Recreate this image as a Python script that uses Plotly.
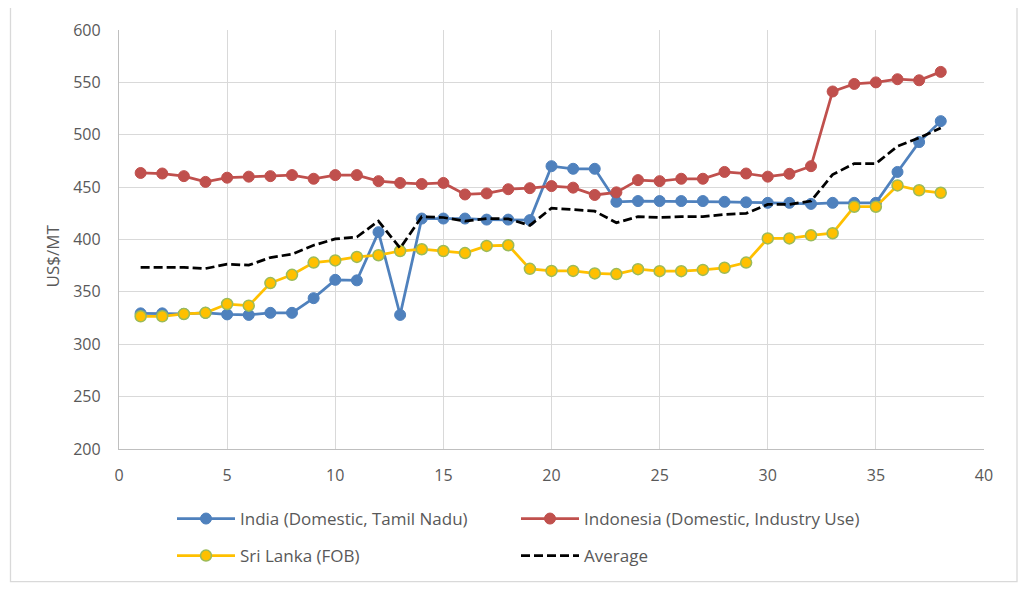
import plotly.graph_objects as go

x_vals = list(range(1, 39))

india = [329.5, 329.5, 329, 330, 328.5, 328, 330, 330, 344, 361.5,
         361, 407, 328, 420, 420, 420, 419, 419, 418.5, 470,
         467.5, 467.5, 436, 436.7, 436.7, 436.7, 436.7, 436, 435.5, 435,
         435, 434, 435, 435, 435, 464.5, 493, 513]

indonesia = [463.5, 463, 460.5, 455, 459, 460, 460.5, 461.5, 458, 461.5,
             461.5, 455.7, 454, 453, 454, 443, 444, 448, 449, 451,
             449.5, 442.5, 445, 456.7, 455.7, 458, 458, 464.5, 463, 460,
             462.7, 470, 541.3, 548.5, 550, 553, 552, 560]

sri_lanka = [326.7, 326.7, 328.9, 330, 338.4, 336.8, 358.4, 366.3, 378, 380,
             383.4, 385, 389, 390.7, 389, 387, 393.9, 394.5, 372, 370,
             370, 367.6, 367, 371.7, 369.8, 369.8, 371, 373, 378, 401,
             401, 404, 406, 431.3, 431.3, 451.6, 447, 444.6]

average = [373.3, 373.3, 373.3, 372.3, 376.4, 375.5, 382.8, 386, 394.5, 400.5,
           402.4, 417.6, 391.7, 421.8, 421, 417.6, 420, 419.7, 413.5, 430,
           428.8, 427, 416, 421.8, 421, 421.8, 421.8, 424, 425, 433.5,
           433.5, 436.7, 462, 472.5, 472.5, 489, 497, 506.5]

names = ["India (Domestic, Tamil Nadu)", "Indonesia (Domestic, Industry Use)",
         "Sri Lanka (FOB)", "Average"]

FONT = "Open Sans, Liberation Sans, Arial, sans-serif"
GRAY = "#595959"

fig = go.Figure()
fig.add_trace(go.Scatter(
    x=x_vals, y=india, name=names[0], mode="lines+markers",
    line=dict(color="#4f81bd", width=2.75),
    marker=dict(color="#4f81bd", size=11, line=dict(color="#4f81bd", width=1)),
    legend="legend"))
fig.add_trace(go.Scatter(
    x=x_vals, y=indonesia, name=names[1], mode="lines+markers",
    line=dict(color="#c0504d", width=2.75),
    marker=dict(color="#c0504d", size=11, line=dict(color="#c0504d", width=1)),
    legend="legend"))
fig.add_trace(go.Scatter(
    x=x_vals, y=sri_lanka, name=names[2], mode="lines+markers",
    line=dict(color="#ffc000", width=2.75),
    marker=dict(color="#ffc000", size=11, line=dict(color="#9bbb59", width=1.5)),
    legend="legend2"))
fig.add_trace(go.Scatter(
    x=x_vals, y=average, name=names[3], mode="lines",
    line=dict(color="#000000", width=2.75, dash="9px,4px"),
    legend="legend2"))

# page has an 8px body margin; work in screen pixels and convert
OFF = 8
W, H = 1011, 577
PL, PR, PT, PB = 119, 984, 30, 450  # plot area in screen pixels
L, T = PL - OFF, PT - OFF
R = W - (PR - OFF)
B = H - (PB - OFF)
pw, ph = PR - PL, PB - PT

def px_x(p):
    return (p - PL) / pw

def px_y(p):
    return (PB - p) / ph

legend_common = dict(orientation="h", xanchor="left", yanchor="middle",
                     font=dict(family=FONT, size=17, color=GRAY),
                     bgcolor="rgba(0,0,0,0)", entrywidth=271, entrywidthmode="pixels",
                     itemwidth=58)

fig.update_layout(
    width=W, height=H,
    margin=dict(l=L, r=R, t=T, b=B),
    paper_bgcolor="white", plot_bgcolor="white",
    font=dict(family=FONT, size=16, color=GRAY),
    showlegend=True,
    legend=dict(x=px_x(172), y=px_y(519), **legend_common),
    legend2=dict(x=px_x(172), y=px_y(556), **legend_common),
    xaxis=dict(range=[0, 40], dtick=5, tick0=0, showgrid=True, gridcolor="#d9d9d9",
               gridwidth=1.3, showline=True, linecolor="#bfbfbf", linewidth=1.3,
               zeroline=False, ticks="", ticklabelstandoff=12,
               tickfont=dict(family=FONT, size=16, color=GRAY)),
    yaxis=dict(range=[200, 600], dtick=50, showgrid=True, gridcolor="#d9d9d9",
               gridwidth=1.3, showline=True, linecolor="#bfbfbf", linewidth=1.3,
               zeroline=False, ticks="", ticklabelstandoff=14,
               tickfont=dict(family=FONT, size=16, color=GRAY)),
    shapes=[dict(type="rect", xref="paper", yref="paper",
                 x0=px_x(10.5), x1=px_x(1017), y0=px_y(583), y1=px_y(6),
                 line=dict(color="#d9d9d9", width=1.3), fillcolor="rgba(0,0,0,0)",
                 layer="below")],
    annotations=[dict(text="US$/MT", xref="paper", yref="paper",
                      x=px_x(52), y=px_y(257), textangle=-90, showarrow=False,
                      xanchor="center", yanchor="middle",
                      font=dict(family=FONT, size=17, color=GRAY))],
)

fig.write_html("out.html")
